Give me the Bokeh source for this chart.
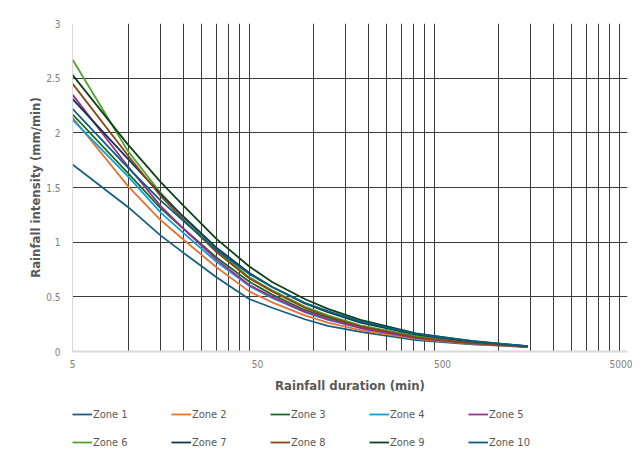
from bokeh.plotting import figure
from bokeh.models import (Range1d, FixedTicker, Legend, LegendItem)
from bokeh.layouts import column
from bokeh.embed import file_html
from bokeh.resources import INLINE

# ---- data ----
durations = [5, 10, 15, 20, 30, 45, 60, 90, 120, 180, 360, 720, 1440]
zone_names = ["Zone 1", "Zone 2", "Zone 3", "Zone 4", "Zone 5",
              "Zone 6", "Zone 7", "Zone 8", "Zone 9", "Zone 10"]
zone1 = [1.71, 1.32, 1.06, 0.90, 0.68, 0.48, 0.40, 0.295, 0.235, 0.18, 0.105, 0.065, 0.042]
zone2 = [2.14, 1.51, 1.20, 1.02, 0.77, 0.55, 0.45, 0.33, 0.265, 0.195, 0.115, 0.070, 0.043]
zone3 = [2.17, 1.63, 1.31, 1.12, 0.86, 0.64, 0.52, 0.38, 0.31, 0.225, 0.130, 0.078, 0.045]
zone4 = [2.12, 1.60, 1.27, 1.08, 0.82, 0.60, 0.49, 0.36, 0.29, 0.215, 0.125, 0.075, 0.044]
zone5 = [2.35, 1.69, 1.33, 1.12, 0.84, 0.61, 0.50, 0.365, 0.295, 0.215, 0.125, 0.074, 0.044]
zone6 = [2.67, 1.83, 1.45, 1.22, 0.93, 0.68, 0.56, 0.41, 0.33, 0.24, 0.140, 0.082, 0.046]
zone7 = [2.31, 1.76, 1.44, 1.23, 0.95, 0.72, 0.59, 0.44, 0.36, 0.265, 0.155, 0.090, 0.047]
zone8 = [2.45, 1.79, 1.42, 1.20, 0.91, 0.67, 0.55, 0.40, 0.32, 0.23, 0.130, 0.076, 0.043]
zone9 = [2.53, 1.89, 1.55, 1.33, 1.03, 0.78, 0.635, 0.48, 0.39, 0.29, 0.165, 0.095, 0.048]
zone10 = [2.22, 1.68, 1.38, 1.19, 0.93, 0.71, 0.59, 0.445, 0.37, 0.275, 0.162, 0.096, 0.049]
zones = [zone1, zone2, zone3, zone4, zone5, zone6, zone7, zone8, zone9, zone10]
colors = ["#156082", "#E97132", "#196B24", "#0F9ED5", "#A02B93",
          "#4EA72E", "#0D3A4E", "#8B4419", "#0F4016", "#095F80"]

x_ticks = [5, 50, 500, 5000]
x_tick_labels = ["5", "50", "500", "5000"]
x_minor_grid = [10, 15, 20, 25, 30, 35, 40, 45,
                100, 150, 200, 250, 300, 350, 400, 450,
                1000, 1500, 2000, 2500, 3000, 3500, 4000, 4500]
y_ticks = [0, 0.5, 1, 1.5, 2, 2.5, 3]
y_tick_labels = ["0", "0.5", "1", "1.5", "2", "2.5", "3"]

FONT = "'Liberation Sans Narrow', 'DejaVu Sans Condensed', Roboto, sans-serif"

p = figure(width=632, height=399, x_axis_type="log",
           x_range=Range1d(5, 5000), y_range=Range1d(0, 3),
           output_backend="svg", toolbar_location=None,
           min_border_left=72, min_border_right=5,
           min_border_top=23, min_border_bottom=48)
p.outline_line_color = None
p.background_fill_color = "white"
p.border_fill_color = "white"

for name, vals, col in zip(zone_names, zones, colors):
    p.line(durations, vals, line_color=col, line_width=1.8)

# grids
p.xgrid.ticker = FixedTicker(ticks=x_minor_grid)
p.xgrid.grid_line_color = "#3a3a3a"
p.xgrid.grid_line_width = 1
p.ygrid.ticker = FixedTicker(ticks=y_ticks[1:])
p.ygrid.grid_line_color = "#3a3a3a"
p.ygrid.grid_line_width = 1

# x axis
xa = p.xaxis[0]
xa.ticker = FixedTicker(ticks=x_ticks)
xa.major_label_overrides = {t: l for t, l in zip(x_ticks, x_tick_labels)}
xa.major_tick_line_color = None
xa.minor_tick_line_color = None
xa.major_tick_out = 0
xa.major_tick_in = 0
xa.minor_tick_out = 0
xa.axis_line_color = "#d9d9d9"
xa.axis_line_width = 2
xa.major_label_text_font = FONT
xa.major_label_text_font_size = "10px"
xa.major_label_text_color = "#808080"
xa.major_label_standoff = 8
xa.axis_label = "Rainfall duration (min)"
xa.axis_label_text_font = FONT
xa.axis_label_text_font_style = "bold"
xa.axis_label_text_font_size = "13px"
xa.axis_label_text_color = "#595959"
xa.axis_label_standoff = 7

# y axis
ya = p.yaxis[0]
ya.ticker = FixedTicker(ticks=y_ticks)
ya.major_label_overrides = {t: l for t, l in zip(y_ticks, y_tick_labels)}
ya.major_tick_line_color = None
ya.minor_tick_line_color = None
ya.major_tick_out = 0
ya.major_tick_in = 0
ya.minor_tick_out = 0
ya.axis_line_color = "#d9d9d9"
ya.axis_line_width = 1
ya.major_label_text_font = FONT
ya.major_label_text_font_size = "10px"
ya.major_label_text_color = "#808080"
ya.major_label_standoff = 12
ya.axis_label = "Rainfall intensity (mm/min)"
ya.axis_label_text_font = FONT
ya.axis_label_text_font_style = "bold"
ya.axis_label_text_font_size = "13px"
ya.axis_label_text_color = "#595959"
ya.axis_label_standoff = 0

# ---- legend strip below the chart ----
lg = figure(width=632, height=56, x_range=Range1d(0, 1), y_range=Range1d(0, 1),
            output_backend="svg", toolbar_location=None,
            x_axis_location=None, y_axis_location=None,
            min_border_left=0, min_border_right=0,
            min_border_top=0, min_border_bottom=0)
lg.outline_line_color = None
lg.xgrid.visible = False
lg.ygrid.visible = False
lg.border_fill_color = "white"

sample_renderers = []
for col in colors:
    sample_renderers.append(lg.line(x=[2, 3], y=[2, 2], line_color=col, line_width=1.8))

def make_legend(names, rends, loc):
    its = [LegendItem(label=n, renderers=[r]) for n, r in zip(names, rends)]
    return Legend(items=its, location=loc,
                  orientation="horizontal",
                  glyph_width=20, glyph_height=26, label_height=26,
                  label_width=78, label_standoff=1, spacing=0,
                  padding=0, margin=0,
                  border_line_color=None, background_fill_alpha=0,
                  label_text_font=FONT, label_text_font_size="11px",
                  label_text_color="#595959")

lg.add_layout(make_legend(zone_names[:5], sample_renderers[:5], (0, 28)), "center")
lg.add_layout(make_legend(zone_names[5:], sample_renderers[5:], (0, 0)), "center")

layout = column(p, lg, spacing=0)
open("out.html", "w").write(file_html(layout, INLINE))
